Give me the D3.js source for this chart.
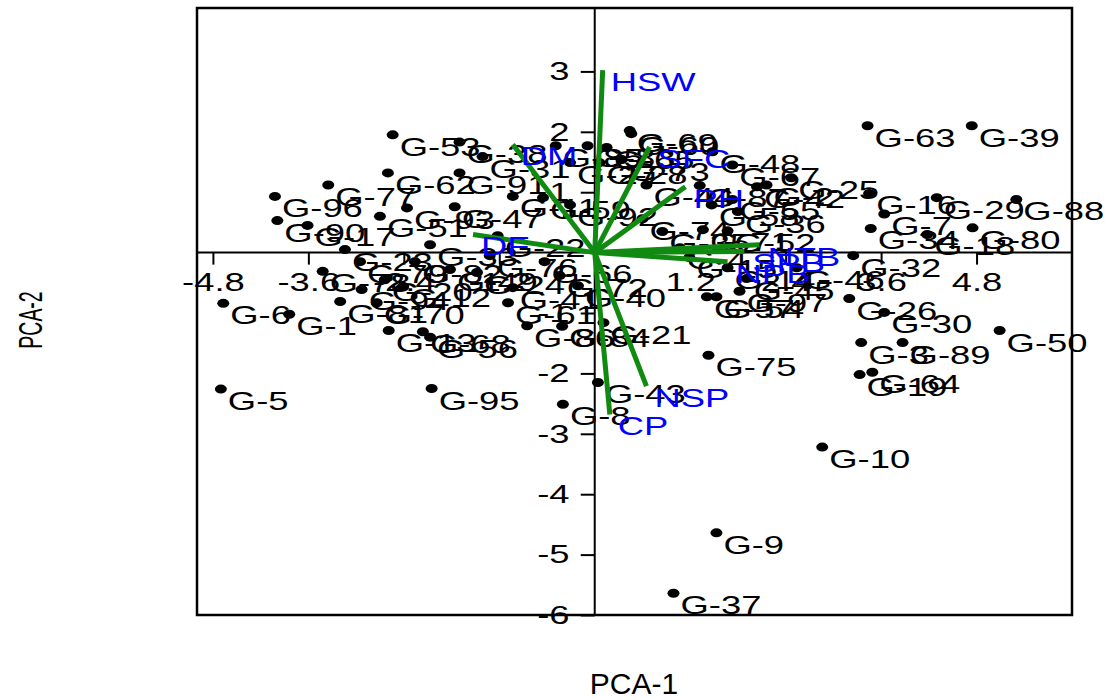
<!DOCTYPE html>
<html>
<head>
<meta charset="utf-8">
<script src="https://cdn.jsdelivr.net/npm/d3@7"></script>
<style>
  body { margin: 0; background: #fff; }
  text { font-family: 'Liberation Sans', Arial, sans-serif; }
</style>
</head>
<body>
<div id="chart"></div>
<script>
// genotype scores (PCA-1, PCA-2)
const genotypes = ['G-63', 'G-39', 'G-16', 'G-29', 'G-88', 'G-7', 'G-34', 'G-80', 'G-18', 'G-32',
  'G-26', 'G-30', 'G-50', 'G-3', 'G-89', 'G-19', 'G-64', 'G-75', 'G-10', 'G-9', 'G-37',
  'G-48', 'G-67', 'G-25', 'G-42', 'G-2', 'G-36', 'G-55', 'G-58', 'G-87', 'G-44', 'G-73',
  'G-69', 'G-60', 'G-27', 'G-28', 'G-83', 'G-65', 'G-85', 'G-38', 'G-53', 'G-62', 'G-91',
  'G-31', 'G-11', 'G-59', 'G-92', 'G-96', 'G-77', 'G-90', 'G-17', 'G-51', 'G-93', 'G-47',
  'G-22', 'G-78', 'G-23', 'G-82', 'G-79', 'G-20', 'G-49', 'G-33', 'G-94', 'G-5', 'G-6',
  'G-1', 'G-95', 'G-81', 'G-70', 'G-13', 'G-68', 'G-56', 'G-12', 'G-61', 'G-86', 'G-84',
  'G-21', 'G-40', 'G-72', 'G-43', 'G-8', 'G-41', 'G-24', 'G-76', 'G-66', 'G-45', 'G-97',
  'G-54', 'G-57', 'G-14', 'G-46', 'G-74', 'G-35', 'G-4', 'G-71', 'G-52', 'G-15']
const pc1 = [3.43, 4.74, 3.45, 4.30, 5.30, 3.64, 3.47, 4.75, 4.18, 3.25,
  3.20, 3.64, 5.09, 3.35, 3.87, 3.33, 3.49, 1.43, 2.86, 1.53, 0.99,
  1.48, 1.73, 2.47, 2.04, 2.16, 1.80, 1.73, 1.47, 1.32, 0.65, 0.34,
  0.44, 0.46, -0.31, 0.06, -0.09, 0.15, -0.49, -1.70, -2.54, -2.60, -1.70,
  -1.41, -1.03, -0.65, -0.31, -4.02, -3.35, -3.99, -3.61, -2.70, -2.36, -1.76,
  -1.22, -3.42, -3.14, -2.26, -2.95, -2.64, -1.82, -2.07, -2.93, -4.70, -4.67,
  -3.84, -2.05, -3.20, -2.74, -2.59, -2.16, -2.07, -2.41, -1.09, -0.85, -0.41,
  0.11, -0.21, -0.44, 0.04, -0.40, -1.03, -1.48, -1.32, -0.63, 1.91, 1.82,
  1.53, 1.41, 1.67, 2.54, 0.60, 0.85, 1.07, 1.36, 1.67, 1.19]
const pc2 = [2.10, 2.10, 0.98, 0.91, 0.88, 0.64, 0.40, 0.41, 0.30, -0.05,
  -0.76, -0.99, -1.29, -1.49, -1.49, -2.02, -1.98, -1.70, -3.22, -4.64, -5.64,
  1.67, 1.45, 1.24, 1.09, 1.12, 0.68, 0.88, 0.79, 1.11, 1.12, 1.54,
  2.02, 1.97, 1.49, 1.49, 1.77, 1.74, 1.77, 1.83, 1.95, 1.32, 1.32,
  1.59, 0.93, 0.91, 0.79, 0.93, 1.12, 0.53, 0.45, 0.60, 0.74, 0.76,
  0.28, -0.31, 0.05, -0.15, -0.15, -0.45, -0.28, 0.13, -0.61, -2.26, -0.84,
  -1.02, -2.25, -0.81, -0.83, -1.29, -1.31, -1.40, -0.56, -0.83, -1.21, -1.22,
  -1.16, -0.55, -0.38, -2.15, -2.51, -0.58, -0.33, -0.05, -0.15, -0.43, -0.64,
  -0.73, -0.73, -0.25, -0.25, 0.56, 0.35, 0.08, 0.38, 0.36, -0.08]

// trait loadings (arrow tips)
const traits = ['HSW', 'DM', 'SFC', 'PH', 'DF', 'NSP', 'CP', 'NPB', 'NTB', 'SPB']
const loadX = [0.10, -1.03, 0.69, 1.14, -1.53, 0.65, 0.19, 1.67, 2.07, 1.88]
const loadY = [3.02, 1.79, 1.75, 1.09, 0.30, -2.21, -2.68, -0.15, 0.13, 0.02]

const xTicks = [-4.8, -3.6, -2.4, -1.2, 1.2, 2.4, 3.6, 4.8]
const yTicks = [-6, -5, -4, -3, -2, -1, 1, 2, 3]

const width = 1112
const height = 700
const frame = { left: 197, right: 1072, top: 8, bottom: 615 }
const stretch = 'scale(1.4,1)'

const svg = d3.select('#chart')
  .append('svg')
  .attr('width', width)
  .attr('height', height)

const x = d3.scaleLinear()
  .domain([-5, 6])
  .range([frame.left, frame.right])

const y = d3.scaleLinear()
  .domain([-6, 4.05])
  .range([frame.bottom, frame.top])

// frame
svg.append('rect')
  .attr('x', frame.left)
  .attr('y', frame.top)
  .attr('width', frame.right - frame.left)
  .attr('height', frame.bottom - frame.top)
  .attr('fill', 'none')
  .attr('stroke', '#000')
  .attr('stroke-width', 2.5)

// axes crossing at the origin
svg.append('line')
  .attr('x1', frame.left).attr('x2', frame.right)
  .attr('y1', y(0)).attr('y2', y(0))
  .attr('stroke', '#000').attr('stroke-width', 2)
svg.append('line')
  .attr('x1', x(0)).attr('x2', x(0))
  .attr('y1', frame.top).attr('y2', frame.bottom)
  .attr('stroke', '#000').attr('stroke-width', 2)

const plain = d => String(d)

const xAxis = svg.append('g')
  .attr('transform', `translate(0,${y(0)})`)
  .call(d3.axisBottom(x).tickValues(xTicks).tickFormat(plain)
    .tickSize(12).tickSizeOuter(0).tickPadding(8))
xAxis.select('.domain').remove()

const yAxis = svg.append('g')
  .attr('transform', `translate(${x(0)},0)`)
  .call(d3.axisLeft(y).tickValues(yTicks).tickFormat(plain)
    .tickSize(14).tickSizeOuter(0).tickPadding(4))
yAxis.select('.domain').remove()

svg.selectAll('.tick line').attr('stroke', '#000').attr('stroke-width', 2)
svg.selectAll('.tick text')
  .attr('font-size', '26px')
  .attr('font-family', 'Liberation Sans, Arial, sans-serif')
  .attr('fill', '#000')
  .attr('transform', stretch)

// genotype points
const points = genotypes.map((g, i) => ({ name: g, px: pc1[i], py: pc2[i] }))

svg.append('g')
  .selectAll('ellipse')
  .data(points)
  .join('ellipse')
  .attr('cx', d => x(d.px))
  .attr('cy', d => y(d.py))
  .attr('rx', 6)
  .attr('ry', 4.5)
  .attr('fill', '#000')

svg.append('g')
  .selectAll('text')
  .data(points)
  .join('text')
  .attr('transform', d => `translate(${x(d.px) + 7},${y(d.py) + 21}) ${stretch}`)
  .attr('font-size', '26px')
  .attr('fill', '#000')
  .text(d => d.name)

// trait vectors
const vectors = traits.map((t, i) => ({ name: t, vx: loadX[i], vy: loadY[i] }))

svg.append('g')
  .selectAll('line')
  .data(vectors)
  .join('line')
  .attr('x1', x(0))
  .attr('y1', y(0))
  .attr('x2', d => x(d.vx))
  .attr('y2', d => y(d.vy))
  .attr('stroke', '#118a11')
  .attr('stroke-width', 5)

svg.append('g')
  .selectAll('text')
  .data(vectors)
  .join('text')
  .attr('transform', d => `translate(${x(d.vx) + 8},${y(d.vy) + 21}) ${stretch}`)
  .attr('font-size', '26px')
  .attr('fill', '#0000ff')
  .text(d => d.name)

// axis titles
svg.append('text')
  .attr('x', 634)
  .attr('y', 694)
  .attr('text-anchor', 'middle')
  .attr('font-size', '30px')
  .text('PCA-1')

svg.append('text')
  .attr('transform', `translate(42,320) rotate(-90) scale(0.75,1.3)`)
  .attr('text-anchor', 'middle')
  .attr('font-size', '26px')
  .text('PCA-2')
</script>
</body>
</html>
